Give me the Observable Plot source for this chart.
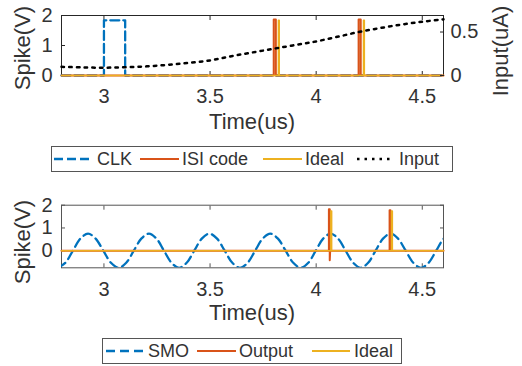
<!DOCTYPE html>
<html><head><meta charset="utf-8">
<script src="https://cdn.jsdelivr.net/npm/d3@7"></script>
<script src="https://cdn.jsdelivr.net/npm/@observablehq/plot@0.6"></script>
<style>
body{margin:0;background:#fff;}
#root{position:relative;width:522px;height:366px;overflow:hidden;font-family:"Liberation Sans",Arial,sans-serif;color:#333;}
#root > svg{position:absolute;left:0;}
.legend{position:absolute;border:1px solid #555;box-sizing:border-box;background:#fff;font-size:18px;color:#333;}
.item{position:absolute;top:0;height:100%;display:flex;align-items:center;white-space:nowrap;}
.item svg{display:block;}
.lab{position:absolute;font-size:22px;line-height:22px;height:22px;white-space:nowrap;color:#333;}
</style></head><body><div id="root"></div>
<script>
// ---------- data ----------
const xTicks = [3, 3.5, 4, 4.5];
const spikeTicks = [0, 1, 2];
const inputTicks = [0, 0.5];

// top panel
const clkT = [2.8, 3.0, 3.0, 3.1, 3.1, 4.6];
const clkV = [0, 0, 1.84, 1.84, 0, 0];
const isiT = [2.8, 3.8, 3.8, 3.81, 3.81, 4.2, 4.2, 4.21, 4.21, 4.6];
const isiV = [0, 0, 1.87, 1.87, 0, 0, 1.87, 1.87, 0, 0];
const ideal1T = [2.8, 3.822, 3.822, 3.826, 3.826, 4.223, 4.223, 4.227, 4.227, 4.6];
const ideal1V = [0, 0, 1.84, 1.84, 0, 0, 1.84, 1.84, 0, 0];
const inputT = [2.8, 2.9, 3.0, 3.1, 3.2, 3.3, 3.4, 3.5, 3.6, 3.7, 3.8, 3.9, 4.0, 4.1, 4.2, 4.3, 4.4, 4.5, 4.6];
const inputV = [0.10, 0.093, 0.09, 0.095, 0.105, 0.122, 0.145, 0.173, 0.222, 0.265, 0.308, 0.35, 0.392, 0.445, 0.50, 0.545, 0.585, 0.618, 0.646];

// bottom panel
const smoT = [2.782, 2.818, 2.8535, 2.889, 2.925, 2.961, 2.997, 3.033, 3.069, 3.105, 3.1405, 3.176, 3.212,
  3.2475, 3.283, 3.3185, 3.354, 3.390, 3.4255, 3.461, 3.497, 3.533, 3.569, 3.605, 3.641, 3.677, 3.7125, 3.748, 3.784,
  3.820, 3.856, 3.892, 3.928, 3.963, 3.998, 4.033, 4.068, 4.1035, 4.139, 4.1745, 4.21, 4.245, 4.28, 4.315, 4.35,
  4.386, 4.422, 4.458, 4.494, 4.530, 4.5655, 4.601, 4.637];
const smoV = [-0.75, -0.53, 0, 0.53, 0.75, 0.53, 0, -0.53, -0.75, -0.53, 0, 0.53, 0.75,
  0.53, 0, -0.53, -0.75, -0.53, 0, 0.53, 0.75, 0.53, 0, -0.53, -0.75, -0.53, 0, 0.53, 0.75,
  0.53, 0, -0.53, -0.75, -0.53, 0, 0.53, 0.75, 0.53, 0, -0.53, -0.75, -0.53, 0, 0.53, 0.75,
  0.53, 0, -0.53, -0.75, -0.53, 0, 0.53, 0.75];
const outT = [2.8, 4.06, 4.06, 4.064, 4.064, 4.066, 4.346, 4.346, 4.35, 4.35, 4.6];
const outV = [0, 0, 1.82, 1.82, -0.42, 0, 0, 1.78, 1.78, 0, 0];
const ideal2T = [2.8, 4.069, 4.069, 4.073, 4.073, 4.355, 4.355, 4.359, 4.359, 4.6];
const ideal2V = [0, 0, 1.75, 1.75, 0, 0, 1.75, 1.75, 0, 0];

const xLabel = "Time(us)";
const yLabel = "Spike(V)";
const y2Label = "Input(uA)";
const legend1Labels = ["CLK", "ISI code", "Ideal", "Input"];
const legend2Labels = ["SMO", "Output", "Ideal"];

// ---------- styles ----------
const BLUE = "#0072BD", RED = "#D95319", YEL = "#EDB120";
const root = document.getElementById("root");
const fmt = d => String(d);
const baseStyle = {fontFamily: '"Liberation Sans", Arial, sans-serif', fontSize: "20px", color: "#333", background: "transparent", overflow: "visible"};
const line = (T, V, o) => Plot.line({length: T.length}, {x: T, y: V, ...o});

function place(svg, top) { svg.style.top = top + "px"; root.appendChild(svg); }
function label(text, cx, cy, rotate) {
  const d = document.createElement("div");
  d.className = "lab";
  d.textContent = text;
  d.style.left = cx + "px";
  d.style.top = (cy - 11) + "px";
  d.style.transform = `translateX(-50%)${rotate ? " rotate(-90deg)" : ""}`;
  root.appendChild(d);
}

// ---------- top panel ----------
const dims1 = {width: 522, height: 140, marginLeft: 61, marginRight: 79, marginTop: 15, marginBottom: 65, style: baseStyle};
const p1 = Plot.plot({
  ...dims1,
  x: {domain: [2.8, 4.6], axis: null},
  y: {domain: [0, 2], axis: null},
  marks: [
    Plot.frame({stroke: "#262626"}),
    Plot.axisX({ticks: xTicks, tickSize: 0, tickPadding: 13.5, tickFormat: fmt, label: null}),
    Plot.axisX({ticks: xTicks, tickSize: -4, tickFormat: () => "", label: null, stroke: "#262626"}),
    Plot.axisX({anchor: "top", ticks: xTicks, tickSize: -4, tickFormat: () => "", label: null, stroke: "#262626"}),
    Plot.axisY({ticks: spikeTicks, tickSize: 0, tickPadding: 9, tickFormat: fmt, label: null}),
    Plot.axisY({ticks: spikeTicks, tickSize: -4, tickFormat: () => "", label: null, stroke: "#262626"}),
    line(clkT, clkV, {stroke: BLUE, strokeWidth: 2.3, strokeDasharray: "9,4"}),
    line(isiT, isiV, {stroke: RED, strokeWidth: 2}),
    line(ideal1T, ideal1V, {stroke: YEL, strokeWidth: 1.5})
  ]
});
place(p1, 0);

const p1r = Plot.plot({
  ...dims1,
  x: {domain: [2.8, 4.6], axis: null},
  y: {domain: [0, 0.69], axis: null},
  marks: [
    Plot.axisY({anchor: "right", ticks: inputTicks, tickSize: 0, tickPadding: 7, tickFormat: fmt, label: null}),
    Plot.axisY({anchor: "right", ticks: inputTicks, tickSize: -4, tickFormat: () => "", label: null, stroke: "#262626"}),
    line(inputT, inputV, {stroke: "#000", strokeWidth: 2.5, strokeDasharray: "2.5,5.2", curve: "catmull-rom"})
  ]
});
place(p1r, 0);

// ---------- bottom panel ----------
const p2 = Plot.plot({
  width: 522, height: 150, marginLeft: 61, marginRight: 79, marginTop: 24.7, marginBottom: 62.7, style: baseStyle,
  x: {domain: [2.8, 4.6], axis: null},
  y: {domain: [-0.75, 2], axis: null},
  marks: [
    Plot.frame({stroke: "#555"}),
    Plot.axisX({ticks: xTicks, tickSize: 0, tickPadding: 13.5, tickFormat: fmt, label: null}),
    Plot.axisX({ticks: xTicks, tickSize: -4, tickFormat: () => "", label: null, stroke: "#555"}),
    Plot.axisX({anchor: "top", ticks: xTicks, tickSize: -4, tickFormat: () => "", label: null, stroke: "#555"}),
    Plot.axisY({ticks: spikeTicks, tickSize: 0, tickPadding: 9, tickFormat: fmt, label: null}),
    Plot.axisY({ticks: spikeTicks, tickSize: -4, tickFormat: () => "", label: null, stroke: "#555"}),
    Plot.axisY({anchor: "right", ticks: spikeTicks, tickSize: -4, tickFormat: () => "", label: null, stroke: "#555"}),
    line(smoT, smoV, {stroke: BLUE, strokeWidth: 2.3, strokeDasharray: "9,5", curve: "catmull-rom", clip: true}),
    line(outT, outV, {stroke: RED, strokeWidth: 2}),
    line(ideal2T, ideal2V, {stroke: YEL, strokeWidth: 1.5})
  ]
});
place(p2, 180);

// ---------- axis labels (HTML text) ----------
label(xLabel, 252, 121.5, false);
label(xLabel, 252, 313, false);
label(yLabel, 22.5, 47.5, true);
label(yLabel, 22.5, 241.5, true);
label(y2Label, 500.5, 51, true);

// ---------- legends ----------
function legend(left, top, width, items) {
  const box = document.createElement("div");
  box.className = "legend";
  Object.assign(box.style, {left: left + "px", top: top + "px", width: width + "px", height: "26px"});
  for (const it of items) {
    const d = document.createElement("div");
    d.className = "item";
    d.style.left = it.x + "px";
    d.innerHTML = `<svg width="${it.len}" height="10" style="margin-right:${it.gap}px"><line x1="0" y1="5" x2="${it.len}" y2="5" stroke="${it.color}" stroke-width="${it.sw}" ${it.dash ? `stroke-dasharray="${it.dash}"` : ""}/></svg><span>${it.label}</span>`;
    box.appendChild(d);
  }
  root.appendChild(box);
}
legend(51, 146, 402, [
  {x: 2, len: 39, gap: 4, color: BLUE, sw: 2.3, dash: "9,4", label: legend1Labels[0]},
  {x: 88, len: 39, gap: 3, color: RED, sw: 2.2, label: legend1Labels[1]},
  {x: 211, len: 39, gap: 3, color: YEL, sw: 1.8, label: legend1Labels[2]},
  {x: 305, len: 36, gap: 6, color: "#000", sw: 2.5, dash: "2.5,5", label: legend1Labels[3]}
]);
legend(102, 338, 300, [
  {x: 3, len: 38, gap: 4, color: BLUE, sw: 2.3, dash: "9,5", label: legend2Labels[0]},
  {x: 94, len: 39, gap: 3, color: RED, sw: 2.2, label: legend2Labels[1]},
  {x: 209, len: 38, gap: 4, color: YEL, sw: 1.8, label: legend2Labels[2]}
]);
</script>
</body></html>
